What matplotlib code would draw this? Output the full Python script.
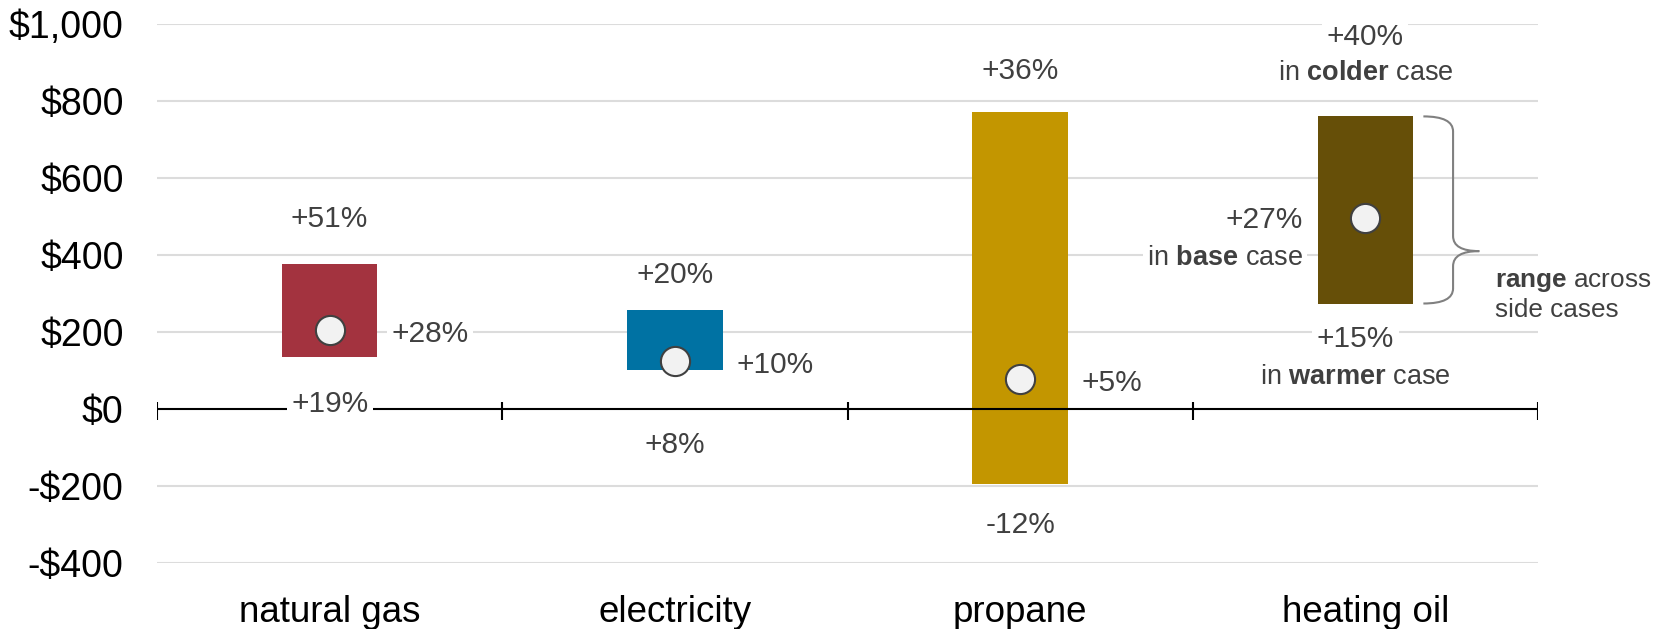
import matplotlib
matplotlib.use('Agg')
import matplotlib.pyplot as plt
from matplotlib.path import Path
from matplotlib.patches import PathPatch

plt.rcParams['font.family'] = ['Liberation Sans', 'DejaVu Sans']
plt.rcParams['mathtext.fontset'] = 'custom'
plt.rcParams['mathtext.rm'] = 'Liberation Sans'
plt.rcParams['mathtext.bf'] = 'Liberation Sans:bold'

# data
fuels = ['natural gas', 'electricity', 'propane', 'heating oil']
colors = ['#A3333F', '#0072A3', '#C39600', '#664F08']
low = [135, 102, -196, 274]
high = [377, 256, 771, 760]
base = [205, 124, 77, 496]
pct_high = ['+51%', '+20%', '+36%', '+40%']
pct_base = ['+28%', '+10%', '+5%', '+27%']
pct_low = ['+19%', '+8%', '-12%', '+15%']
yticks = [-400, -200, 0, 200, 400, 600, 800, 1000]
ytick_labels = ['-$400', '-$200', '$0', '$200', '$400', '$600', '$800', '$1,000']

W, H = 1667, 629
PX = 0.72  # points per pixel at dpi 100
txt_col = '#404040'
box = dict(boxstyle='square,pad=0.15', fc='white', ec='none')
fs_pct = 21.5
fs_case = 19.5

fig = plt.figure(figsize=(W / 100, H / 100), dpi=100)
ax = fig.add_axes([157 / W, 1 - 563 / H, (1538 - 157) / W, (563 - 24) / H])
ax.set_xlim(0, 4)
ax.set_ylim(-400, 1000)

# grid + zero axis
for y in yticks:
    if y != 0:
        ax.axhline(y, color='#DCDCDC', lw=1.5, zorder=0)
ax.axhline(0, color='black', lw=1.5, zorder=2)
ax.vlines(range(5), -28, 18, color='black', lw=1.5, zorder=2)

x = [i + 0.5 for i in range(len(fuels))]
bw = 0.276
hgt = [h - l for h, l in zip(high, low)]
ax.bar(x, hgt, bottom=low, width=bw, color=colors, zorder=1)
ax.plot(x, base, 'o', ms=21, mfc='#F2F2F2', mec='#404040', mew=1.5, zorder=4)

# per-label pixel offsets (label centre from bar end)
top_off = [45, 35, 41]
bot_off = [47, 75, 41]
for i in range(3):
    ax.annotate(pct_high[i], (x[i], high[i]), xytext=(0, top_off[i] * PX),
                textcoords='offset points', ha='center', va='center',
                fontsize=fs_pct, color=txt_col, bbox=box, zorder=5)
    ax.annotate(pct_low[i], (x[i], low[i]), xytext=(0, -bot_off[i] * PX),
                textcoords='offset points', ha='center', va='center',
                fontsize=fs_pct, color=txt_col, bbox=box, zorder=5)
    ax.annotate(pct_base[i], (x[i] + bw / 2, base[i]), xytext=(14 * PX, -4 * PX),
                textcoords='offset points', ha='left', va='center',
                fontsize=fs_pct, color=txt_col, bbox=box, zorder=5)

# heating oil: annotated case labels
i = 3
ax.annotate(pct_high[i], (x[i], high[i]), xytext=(0, 79 * PX),
            textcoords='offset points', ha='center', va='center',
            fontsize=fs_pct, color=txt_col, bbox=box, zorder=5)
ax.annotate(r'in $\mathbf{colder}$ case', (x[i], high[i]), xytext=(0, 43 * PX),
            textcoords='offset points', ha='center', va='center',
            fontsize=fs_case, color=txt_col, bbox=box, zorder=5)
ax.annotate(pct_base[i], (x[i] - bw / 2, base[i]), xytext=(-15 * PX, -2 * PX),
            textcoords='offset points', ha='right', va='center',
            fontsize=fs_pct, color=txt_col, bbox=box, zorder=5)
ax.annotate(r'in $\mathbf{base}$ case', (x[i] - bw / 2, base[i]), xytext=(-15 * PX, -40 * PX),
            textcoords='offset points', ha='right', va='center',
            fontsize=fs_case, color=txt_col, bbox=box, zorder=5)
ax.annotate(pct_low[i], (x[i], low[i]), xytext=(-10 * PX, -35 * PX),
            textcoords='offset points', ha='center', va='center',
            fontsize=fs_pct, color=txt_col, bbox=box, zorder=5)
ax.annotate(r'in $\mathbf{warmer}$ case', (x[i], low[i]), xytext=(-10 * PX, -73 * PX),
            textcoords='offset points', ha='center', va='center',
            fontsize=fs_case, color=txt_col, bbox=box, zorder=5)

# curly bracket for the side-case range
x0, x1, x2 = 3.668, 3.754, 3.830
ytop, ybot = high[3], low[3]
ymid = ytop - 0.72 * (ytop - ybot)
ry = 39
verts = [(x0, ytop), (x1, ytop), (x1, ytop - ry),
         (x1, ymid + ry), (x1, ymid), (x2, ymid),
         (x1, ymid), (x1, ymid - ry),
         (x1, ybot + ry), (x1, ybot), (x0, ybot)]
codes = [Path.MOVETO, Path.CURVE3, Path.CURVE3,
         Path.LINETO, Path.CURVE3, Path.CURVE3,
         Path.CURVE3, Path.CURVE3,
         Path.LINETO, Path.CURVE3, Path.CURVE3]
ax.add_patch(PathPatch(Path(verts, codes), fc='none', ec='#808080', lw=1.5,
                       clip_on=False, zorder=3))
ax.text(3.876, (332 + 255) / 2, '$\\mathbf{range}$ across\nside cases',
        ha='left', va='center', fontsize=18.8, color=txt_col, linespacing=1.2)

ax.set_yticks(yticks, ytick_labels)
ax.set_xticks(x, fuels)
ax.tick_params(axis='y', length=0, pad=24, labelsize=27, labelcolor='black')
ax.tick_params(axis='x', length=0, pad=23, labelsize=26.5, labelcolor='black')
for s in ax.spines.values():
    s.set_visible(False)

fig.savefig('out.png', dpi=100)
